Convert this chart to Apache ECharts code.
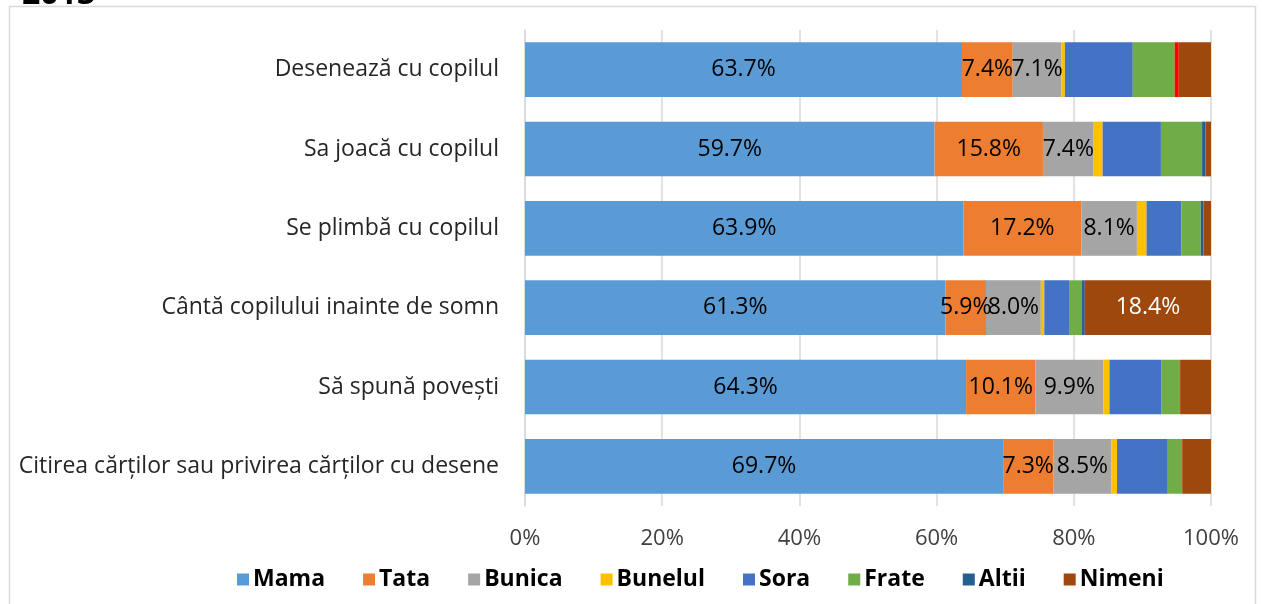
<!DOCTYPE html>
<html>
<head>
<meta charset="utf-8">
<script src="https://cdn.jsdelivr.net/npm/echarts@6/dist/echarts.min.js"></script>
<style>
  html, body { margin: 0; padding: 0; background: #fff; }
  #chart { width: 1262px; height: 604px; }
</style>
</head>
<body>
<div id="chart"></div>
<script>
// categories, bottom to top (as the y axis draws them)
const categories = [
  "Citirea cărților sau privirea cărților cu desene",
  "Să spună povești",
  "Cântă copilului inainte de somn",
  "Se plimbă cu copilul",
  "Sa joacă cu copilul",
  "Desenează cu copilul"
];
const mama    = [69.7, 64.3, 61.3, 63.9, 59.7, 63.7];
const tata    = [7.3, 10.1, 5.9, 17.2, 15.8, 7.4];
const bunica  = [8.5, 9.9, 8.0, 8.1, 7.4, 7.1];
const bunelul = [0.8, 0.9, 0.5, 1.4, 1.3, 0.5];
const sora    = [7.4, 7.6, 3.6, 5.1, 8.5, 9.9];
const frate   = [2.1, 2.7, 1.9, 2.8, 6.0, 6.1];
const altii   = [0, 0, 0.4, 0.4, 0.5, 0.6];
const nimeni  = [4.2, 4.5, 18.4, 1.1, 0.8, 4.7];
const xTicks  = [0, 20, 40, 60, 80, 100];

const FONT = "'Open Sans', 'Noto Sans', sans-serif";

function pct(p) { return p.value.toFixed(1) + "%"; }

function bar(name, data, color, label) {
  return {
    name: name,
    type: "bar",
    stack: "total",
    barWidth: "69%",
    itemStyle: { color: color },
    label: label || { show: false },
    data: data
  };
}

const dataLabel = {
  show: true,
  position: "inside",
  color: "#000",
  fontSize: 23,
  fontFamily: FONT,
  formatter: pct
};

let myChart = echarts.init(document.getElementById("chart"));
let option = {
  animation: false,
  textStyle: { fontFamily: FONT },
  graphic: [
    {
      type: "rect",
      shape: { x: 9.5, y: 6.5, width: 1246, height: 620 },
      style: { fill: "none", stroke: "#d9d9d9", lineWidth: 1.5 },
      silent: true
    },
    {
      type: "text",
      x: 22,
      y: -21,
      style: { text: "2013", font: "bold 32px " + FONT, fill: "#000", textVerticalAlign: "top" },
      silent: true
    }
  ],
  legend: {
    left: 232,
    bottom: 8,
    itemWidth: 12,
    itemHeight: 12,
    itemGap: 38,
    icon: "rect",
    textStyle: { fontSize: 23, fontWeight: "bold", color: "#000", fontFamily: FONT, padding: [0, 0, 0, -1] },
    data: ["Mama", "Tata", "Bunica", "Bunelul", "Sora", "Frate", "Altii", "Nimeni"]
  },
  grid: { left: 525, right: 51, top: 30, bottom: 98 },
  xAxis: {
    type: "value",
    min: 0,
    max: 100,
    interval: 20,
    axisLine: { show: false },
    axisTick: { show: false },
    axisLabel: {
      color: "#404040",
      fontSize: 22,
      margin: 22,
      formatter: function (v) { return xTicks.indexOf(v) >= 0 ? v + "%" : ""; }
    },
    splitLine: { show: true, lineStyle: { color: "#d9d9d9", width: 1.5 } }
  },
  yAxis: {
    type: "category",
    data: categories,
    axisLine: { show: true, lineStyle: { color: "#d9d9d9", width: 1.5 } },
    axisTick: { show: false },
    axisLabel: { color: "#262626", fontSize: 23, margin: 26 }
  },
  series: [
    bar("Mama", mama, "#5B9BD5", dataLabel),
    bar("Tata", tata, "#ED7D31", dataLabel),
    bar("Bunica", bunica, "#A5A5A5", dataLabel),
    bar("Bunelul", bunelul, "#FFC000"),
    bar("Sora", sora, "#4472C4"),
    bar("Frate", frate, "#70AD47"),
    bar("Altii", altii.map(function (v, i) {
      // the top row's "Altii" slice is drawn red in the original
      return i === 5 ? { value: v, itemStyle: { color: "#FF0000" } } : v;
    }), "#255E91"),
    bar("Nimeni", nimeni, "#9E480E", {
      show: true,
      position: "inside",
      color: "#fff",
      fontSize: 23,
      fontFamily: FONT,
      formatter: function (p) { return p.value >= 10 ? pct(p) : ""; }
    })
  ]
};
myChart.setOption(option);
</script>
</body>
</html>
